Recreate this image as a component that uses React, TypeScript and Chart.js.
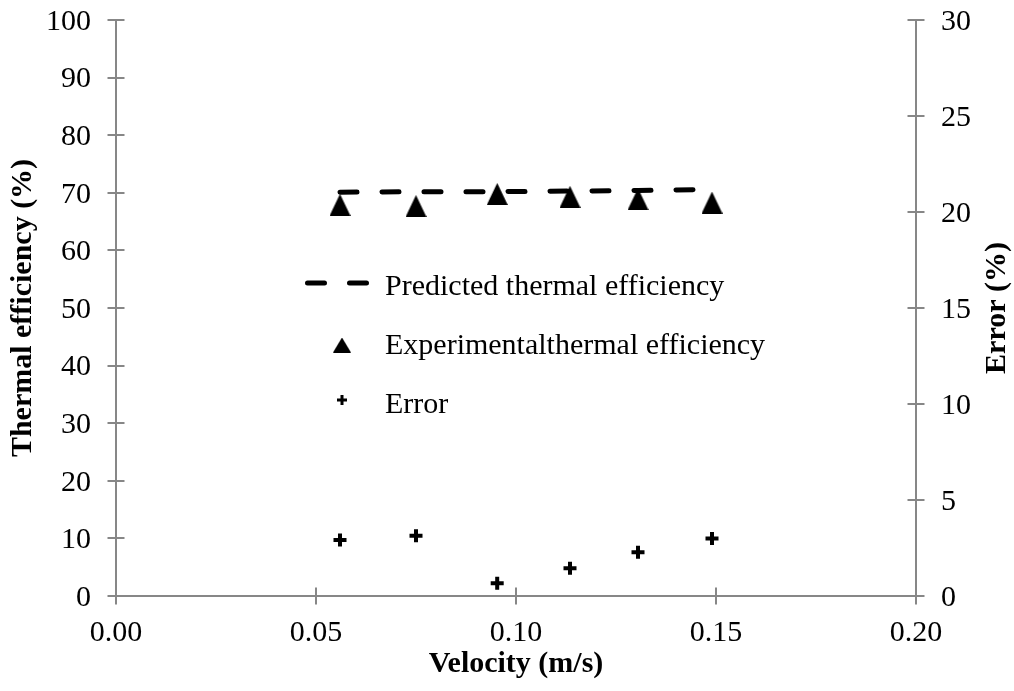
import React, { useEffect, useRef } from "react";
import { Chart, registerables } from "chart.js";

Chart.register(...registerables);

// ---- data ----
const velocity = [0.056, 0.075, 0.0953, 0.1135, 0.1305, 0.149];
const predictedEfficiency = [70.1, 70.2, 70.2, 70.3, 70.4, 70.6];
const experimentalEfficiency = [67.9, 67.7, 69.8, 69.3, 68.9, 68.3];
const errorPercent = [2.92, 3.14, 0.66, 1.44, 2.28, 3.0];

const xTickValues = [0, 0.05, 0.1, 0.15, 0.2];
const leftTickValues = [0, 10, 20, 30, 40, 50, 60, 70, 80, 90, 100];
const rightTickValues = [0, 5, 10, 15, 20, 25, 30];

const seriesLabels = [
  "Predicted thermal efficiency",
  "Experimentalthermal efficiency",
  "Error",
];
const xTitle = "Velocity (m/s)";
const leftTitle = "Thermal efficiency (%)";
const rightTitle = "Error (%)";

const FONT = "'Liberation Serif', 'Times New Roman', serif";
const AXIS_COLOR = "#878787";

function makeTriangle(w: number, h: number) {
  const c = document.createElement("canvas");
  c.width = w;
  c.height = h;
  const g = c.getContext("2d")!;
  g.fillStyle = "#000";
  g.beginPath();
  g.moveTo(w / 2, 0);
  g.lineTo(w, h);
  g.lineTo(0, h);
  g.closePath();
  g.fill();
  return c;
}

export default function App() {
  const ref = useRef<HTMLCanvasElement | null>(null);

  useEffect(() => {
    document.body.style.margin = "0";
    const canvas = ref.current;
    if (!canvas) return;
    const tri = makeTriangle(21, 22);
    const triLegend = makeTriangle(18, 15);

    const crossTicks = {
      id: "crossTicks",
      afterDraw(chart: any) {
        const ctx = chart.ctx;
        const a = chart.chartArea;
        const L = 8.5;
        ctx.save();
        ctx.strokeStyle = AXIS_COLOR;
        ctx.lineWidth = 2;
        ctx.beginPath();
        for (const v of xTickValues) {
          const px = Math.round(chart.scales.x.getPixelForValue(v));
          ctx.moveTo(px, a.bottom - L);
          ctx.lineTo(px, a.bottom + L);
        }
        for (const v of leftTickValues) {
          const py = Math.round(chart.scales.y.getPixelForValue(v));
          ctx.moveTo(a.left - L, py);
          ctx.lineTo(a.left + L, py);
        }
        for (const v of rightTickValues) {
          const py = Math.round(chart.scales.y1.getPixelForValue(v));
          ctx.moveTo(a.right - L, py);
          ctx.lineTo(a.right + L, py);
        }
        ctx.stroke();

        // right axis title (reads bottom-to-top)
        ctx.fillStyle = "#000";
        ctx.font = `bold 30px ${FONT}`;
        ctx.textAlign = "center";
        ctx.textBaseline = "middle";
        ctx.translate(997, (a.top + a.bottom) / 2);
        ctx.rotate(-Math.PI / 2);
        ctx.fillText(rightTitle, 0, 0);
        ctx.restore();

        // legend
        ctx.save();
        ctx.fillStyle = "#000";
        ctx.font = `30px ${FONT}`;
        ctx.textAlign = "left";
        ctx.textBaseline = "alphabetic";
        const textX = 385;
        const baselines = [295, 354, 413];
        const symY = [283, 345, 400];
        ctx.strokeStyle = "#000";
        ctx.lineWidth = 5;
        ctx.lineCap = "round";
        ctx.setLineDash([17, 25]);
        ctx.beginPath();
        ctx.moveTo(307.5, symY[0]);
        ctx.lineTo(368, symY[0]);
        ctx.stroke();
        ctx.setLineDash([]);
        ctx.drawImage(triLegend, 342 - triLegend.width / 2, symY[1] - triLegend.height / 2);
        ctx.lineCap = "butt";
        ctx.lineWidth = 3;
        ctx.beginPath();
        ctx.moveTo(337, symY[2]);
        ctx.lineTo(347, symY[2]);
        ctx.moveTo(342, symY[2] - 5);
        ctx.lineTo(342, symY[2] + 5);
        ctx.stroke();
        seriesLabels.forEach((t, i) => ctx.fillText(t, textX, baselines[i]));
        ctx.restore();
      },
    };

    const chart = new Chart(canvas, {
      type: "scatter",
      data: {
        datasets: [
          {
            label: seriesLabels[0],
            data: velocity.map((x, i) => ({ x, y: predictedEfficiency[i] })),
            showLine: true,
            borderColor: "#000",
            backgroundColor: "#000",
            borderWidth: 5,
            borderDash: [17, 25],
            borderCapStyle: "round",
            pointRadius: 0,
            yAxisID: "y",
          },
          {
            label: seriesLabels[1],
            data: velocity.map((x, i) => ({ x, y: experimentalEfficiency[i] })),
            showLine: false,
            pointStyle: tri as any,
            pointRadius: 10,
            borderColor: "#000",
            backgroundColor: "#000",
            yAxisID: "y",
          },
          {
            label: seriesLabels[2],
            data: velocity.map((x, i) => ({ x, y: errorPercent[i] })),
            showLine: false,
            pointStyle: "cross",
            pointRadius: 6.5,
            borderWidth: 4,
            borderColor: "#000",
            backgroundColor: "#000",
            yAxisID: "y1",
          },
        ],
      },
      options: {
        responsive: false,
        animation: false,
        events: [],
        layout: { padding: { top: 20, left: 0, right: 0, bottom: 0 } },
        plugins: {
          legend: { display: false },
          tooltip: { enabled: false },
        },
        font: { family: FONT },
        scales: {
          x: {
            type: "linear",
            min: 0,
            max: 0.2,
            afterBuildTicks: (s: any) => {
              s.ticks = xTickValues.map((v) => ({ value: v }));
            },
            afterFit: (s: any) => {
              s.height = 95;
              s.paddingLeft = 0;
              s.paddingRight = 0;
            },
            grid: { display: false, drawTicks: false },
            border: { display: true, color: AXIS_COLOR, width: 2 },
            ticks: {
              color: "#000",
              font: { family: FONT, size: 30 },
              padding: 19,
              maxRotation: 0,
              callback: (v: any) => Number(v).toFixed(2),
            },
            title: {
              display: true,
              text: xTitle,
              color: "#000",
              font: { family: FONT, size: 30, weight: "bold" },
              padding: { top: 0, bottom: 9 },
            },
          },
          y: {
            type: "linear",
            position: "left",
            min: 0,
            max: 100,
            afterBuildTicks: (s: any) => {
              s.ticks = leftTickValues.map((v) => ({ value: v }));
            },
            afterFit: (s: any) => {
              s.width = 116;
              s.paddingTop = 0;
              s.paddingBottom = 0;
            },
            grid: { display: false, drawTicks: false },
            border: { display: true, color: AXIS_COLOR, width: 2 },
            ticks: {
              color: "#000",
              font: { family: FONT, size: 30 },
              padding: 25,
              labelOffset: 2,
            },
            title: {
              display: true,
              text: leftTitle,
              color: "#000",
              font: { family: FONT, size: 30, weight: "bold" },
              padding: { top: 5, bottom: 0 },
            },
          },
          y1: {
            type: "linear",
            position: "right",
            min: 0,
            max: 30,
            afterBuildTicks: (s: any) => {
              s.ticks = rightTickValues.map((v) => ({ value: v }));
            },
            afterFit: (s: any) => {
              s.width = 98;
              s.paddingTop = 0;
              s.paddingBottom = 0;
            },
            grid: { display: false, drawTicks: false },
            border: { display: true, color: AXIS_COLOR, width: 2 },
            ticks: {
              color: "#000",
              font: { family: FONT, size: 30 },
              padding: 25,
              labelOffset: 2,
            },
          },
        },
      } as any,
      plugins: [crossTicks],
    });
    return () => chart.destroy();
  }, []);

  return (
    <div style={{ position: "absolute", left: 0, top: 0, width: 1014, height: 691, background: "#fff" }}>
      <canvas ref={ref} width={1014} height={691} />
    </div>
  );
}
